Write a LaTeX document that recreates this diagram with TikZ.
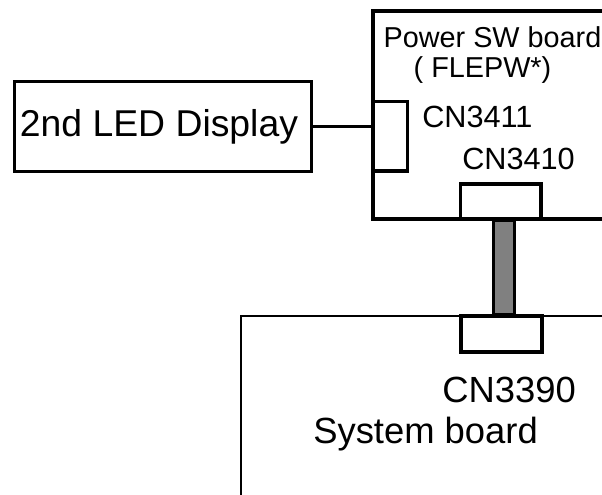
\documentclass[tikz,border=0pt]{standalone}
\usepackage{fontspec}
\setmainfont{Liberation Sans}
\usepackage{xcolor}
\definecolor{cablegray}{RGB}{128,128,128}
\usetikzlibrary{positioning,calc}

\tikzset{
  board/.style={line width=2.7pt, line join=miter},
  sysboard/.style={line width=2.2pt},
  conn/.style={draw, line width=2.7pt, fill=white, inner sep=0pt},
  ledbox/.style={draw, line width=2.7pt, inner sep=0pt, minimum width=297*0.75pt, minimum height=90*0.75pt},
  cable/.style={draw, line width=2pt, fill=cablegray},
  lbl/.style={inner sep=0pt, anchor=base west}
}

\begin{document}
\begin{tikzpicture}[x=0.75pt, y=-0.75pt]
    % page frame, pixel coordinates (y downwards)
    \useasboundingbox (0,0) rectangle (602,495);

    % System board (open to the right and bottom)
    \draw[sysboard] (241,497) -- (241,316) -- (604,316);

    % Power SW board (open to the right)
    \draw[board] (604,11) -- (373,11) -- (373,219) -- (604,219);

    % Display box
    \node[ledbox] (led) at (163,126.5) {};
    \node[font=\fontsize{28}{31}\selectfont] (ledtxt) at ($(led.center)+(-4,0)$) {2nd LED Display};

    % Connectors
    \node[conn, minimum width=34*0.75pt, minimum height=69.5*0.75pt] (cn3411) at (390.5,136.25) {};
    \node[conn, minimum width=80.5*0.75pt, minimum height=35*0.75pt] (cn3410) at (500.75,201.5) {};
    \node[conn, minimum width=81*0.75pt, minimum height=36*0.75pt] (cn3390) at (501.5,334) {};

    % Cable between the two boards
    \coordinate (cabtop) at ($(cn3410.south)+(3.25,0)$);
    \coordinate (cabbot) at ($(cn3390.north)+(2.5,0)$);
    \draw[cable] ($(cabtop)+(-10.5,0)$) rectangle ($(cabbot)+(10.5,0)$);

    % Display line
    \draw[line width=2.7pt] (led.east) -- (led.east -| cn3411.west);

    % Labels
    \node[font=\fontsize{21.6}{24}\selectfont, inner sep=0pt, anchor=base] (pwrtxt) at (492.5,48) {Power SW board};
    \node[font=\fontsize{21.6}{24}\selectfont, inner sep=0pt, anchor=base] (flepw) at (482.5,78) {( FLEPW*)};
    \node[lbl, font=\fontsize{23}{26}\selectfont] (t3411) at (422,128) {CN3411};
    \node[lbl, font=\fontsize{23}{26}\selectfont] (t3410) at (462,170) {CN3410};
    \node[lbl, font=\fontsize{27.3}{30}\selectfont] (t3390) at (442,402) {CN3390};
    \node[lbl, font=\fontsize{27.3}{30}\selectfont] (systxt) at (313,443) {System board};
\end{tikzpicture}
\end{document}
